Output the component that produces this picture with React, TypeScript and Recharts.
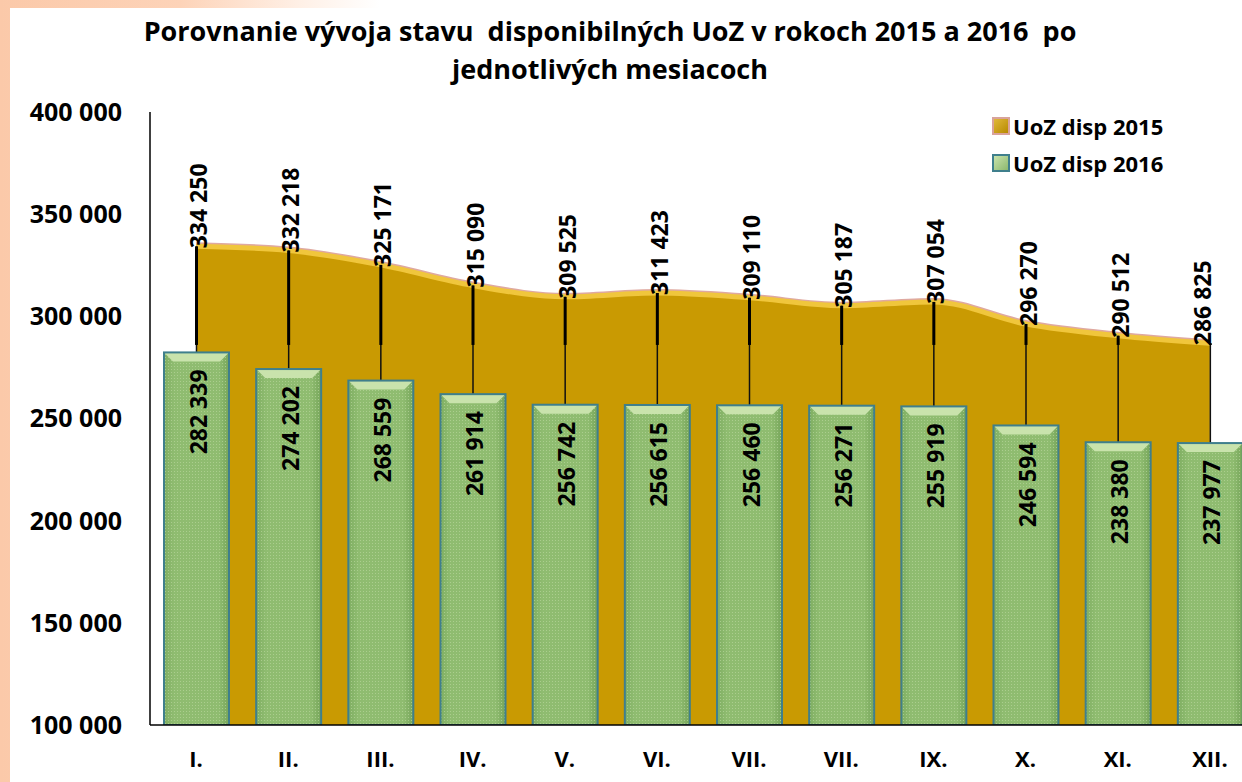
import React from "react";
import {
  ComposedChart,
  Area,
  Bar,
  XAxis,
  YAxis,
  Legend,
  LabelList,
} from "recharts";

// ─── Data ─────────────────────────────────────────────────────────────────────

const months = ["I.", "II.", "III.", "IV.", "V.", "VI.", "VII.", "VII.", "IX.", "X.", "XI.", "XII."];
const disp2015 = [334250, 332218, 325171, 315090, 309525, 311423, 309110, 305187, 307054, 296270, 290512, 286825];
const disp2016 = [282339, 274202, 268559, 261914, 256742, 256615, 256460, 256271, 255919, 246594, 238380, 237977];
const yTicks = [100000, 150000, 200000, 250000, 300000, 350000, 400000];

const Y_MIN = 100000;
const Y_MAX = 400000;
// the drop lines are drawn heavier above this level
const DROP_SPLIT = 286000;

const chartData = months.map((m, i) => ({ m, d2015: disp2015[i], d2016: disp2016[i] }));

const FONT = "'Open Sans', 'Noto Sans', sans-serif";
const fmt = (v: number) => String(v).replace(/\B(?=(\d{3})+(?!\d))/g, " ");

// ─── Bar with bevel and drop line ────────────────────────────────────────────

function BevelBar(props: any) {
  const { x, y, width, height, payload } = props;
  if (!height || height <= 0) return null;
  const ppu = height / (payload.d2016 - Y_MIN);
  const base = y + height;
  const y15 = base - (payload.d2015 - Y_MIN) * ppu;
  const ySplit = Math.min(y, base - (DROP_SPLIT - Y_MIN) * ppu);
  const cx = x + width / 2;
  const bev = 9;
  return (
    <g>
      <line x1={cx} x2={cx} y1={y15} y2={y} stroke="#111" strokeWidth={1.5} />
      {ySplit > y15 && (
        <line x1={cx} x2={cx} y1={y15} y2={ySplit} stroke="#000" strokeWidth={3} />
      )}
      <rect x={x} y={y} width={width} height={height} fill="url(#greenFill)" />
      <rect x={x} y={y} width={width} height={height} fill="url(#dots)" />
      <polygon
        points={`${x},${y} ${x + width},${y} ${x + width - bev},${y + bev} ${x + bev},${y + bev}`}
        fill="#c9e3ac"
      />
      <rect
        x={x}
        y={y}
        width={width}
        height={height}
        fill="none"
        stroke="#3f7f8c"
        strokeWidth={2}
      />
    </g>
  );
}

// ─── Labels ───────────────────────────────────────────────────────────────────

function AreaLabel(props: any) {
  const { x, y, value, index } = props;
  // the last label is pulled inside the plot, as in the original
  const dx = index === disp2015.length - 1 ? -8 : 2;
  return (
    <g transform={`translate(${x + dx},${y + 2}) rotate(-90)`}>
      <text
        x={0}
        y={0}
        textAnchor="start"
        dominantBaseline="central"
        fontFamily={FONT}
        fontWeight={700}
        fontSize={23}
        fill="#000"
      >
        {fmt(value)}
      </text>
    </g>
  );
}

function BarLabel(props: any) {
  const { x, y, width, value } = props;
  return (
    <g transform={`translate(${x + width / 2 + 1},${y + 17}) rotate(-90)`}>
      <text
        x={0}
        y={0}
        textAnchor="end"
        dominantBaseline="central"
        fontFamily={FONT}
        fontWeight={700}
        fontSize={23}
        fill="#000"
      >
        {fmt(value)}
      </text>
    </g>
  );
}

function LegendBox() {
  const items = [
    { name: "UoZ disp 2015", fill: "#b88a00", stroke: "#d9a39b", light: "#e0b83a" },
    { name: "UoZ disp 2016", fill: "#8cb96e", stroke: "#3f7f8c", light: "#c9e3ac" },
  ];
  return (
    <div style={{ fontFamily: FONT, fontWeight: 700, fontSize: 22, color: "#000" }}>
      {items.map((it) => (
        <div key={it.name} style={{ display: "flex", alignItems: "center", height: 37 }}>
          <span
            style={{
              width: 18,
              height: 18,
              background: `linear-gradient(135deg, ${it.light}, ${it.fill})`,
              border: `2px solid ${it.stroke}`,
              marginRight: 3,
              boxSizing: "border-box",
            }}
          />
          {it.name}
        </div>
      ))}
    </div>
  );
}

// ─── Chart ────────────────────────────────────────────────────────────────────

export default function App() {
  return (
    <div
      style={{
        position: "absolute",
        left: 0,
        top: 0,
        width: 1242,
        height: 782,
        overflow: "hidden",
        background: "linear-gradient(to right, #fbc9a9 0px, #fdd3b8 180px, #fff0e6 300px, #ffffff 380px)",
      }}
    >
      <div
        style={{
          position: "absolute",
          left: 10,
          top: 8,
          right: 0,
          bottom: 0,
          background: "#fff",
        }}
      />
      <div
        style={{
          position: "absolute",
          left: 0,
          top: 12,
          width: 1220,
          textAlign: "center",
          fontFamily: FONT,
          fontWeight: 700,
          fontSize: 27,
          lineHeight: "38px",
          whiteSpace: "pre",
          color: "#000",
        }}
      >
        {"Porovnanie vývoja stavu  disponibilných UoZ v rokoch 2015 a 2016  po\njednotlivých mesiacoch"}
      </div>
      <div style={{ position: "absolute", left: 0, top: 0 }}>
        <ComposedChart
          width={1256}
          height={782}
          data={chartData}
          margin={{ top: 112, right: 0, bottom: 0, left: 0 }}
        >
          <defs>
            <linearGradient id="greenFill" x1="0" y1="0" x2="1" y2="0">
              <stop offset="0" stopColor="#7fae62" />
              <stop offset="0.15" stopColor="#8fbc70" />
              <stop offset="0.85" stopColor="#8fbc70" />
              <stop offset="1" stopColor="#76a55a" />
            </linearGradient>
            <pattern id="dots" width="3" height="3" patternUnits="userSpaceOnUse">
              <rect x="0" y="0" width="1" height="1" fill="#b7d69c" opacity="0.7" />
            </pattern>
          </defs>
          <XAxis
            dataKey="m"
            height={57}
            tickSize={0}
            tickMargin={26}
            axisLine={{ stroke: "#000", strokeWidth: 1.5 }}
            tickLine={false}
            tick={{ fontFamily: FONT, fontWeight: 700, fontSize: 22, fill: "#000" }}
            interval={0}
          />
          <YAxis
            width={150}
            domain={[Y_MIN, Y_MAX]}
            ticks={yTicks}
            tickFormatter={fmt}
            tickSize={0}
            tickMargin={28}
            axisLine={{ stroke: "#000", strokeWidth: 1.5 }}
            tickLine={false}
            tick={{ fontFamily: FONT, fontWeight: 700, fontSize: 25, fill: "#000" }}
            allowDataOverflow
          />
          <Legend
            verticalAlign="middle"
            align="center"
            layout="vertical"
            content={() => <LegendBox />}
            wrapperStyle={{ top: 107, left: 992, width: 220 }}
          />
          <Area
            type="monotone"
            dataKey="d2015"
            fill="none"
            stroke="#dfa9a0"
            strokeWidth={8}
            isAnimationActive={false}
            legendType="none"
          />
          <Area
            type="monotone"
            dataKey="d2015"
            name="UoZ disp 2015"
            fill="#c99a02"
            fillOpacity={1}
            stroke="#f0c63c"
            strokeWidth={5}
            isAnimationActive={false}
          >
            <LabelList dataKey="d2015" content={AreaLabel} />
          </Area>
          <Bar
            dataKey="d2016"
            name="UoZ disp 2016"
            barSize={65}
            shape={(p: any) => <BevelBar {...p} />}
            isAnimationActive={false}
          >
            <LabelList dataKey="d2016" content={BarLabel} />
          </Bar>
        </ComposedChart>
      </div>
    </div>
  );
}
